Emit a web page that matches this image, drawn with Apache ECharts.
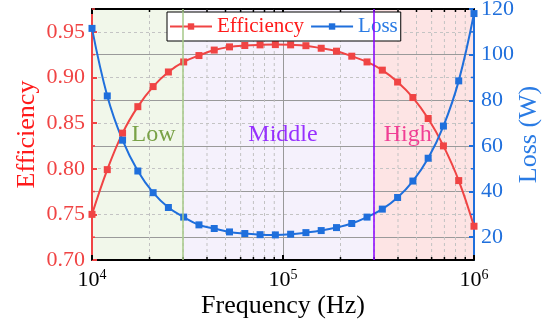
<!DOCTYPE html>
<html>
<head>
<meta charset="utf-8">
<script src="https://cdn.jsdelivr.net/npm/echarts@6/dist/echarts.min.js"></script>
<style>html,body{margin:0;padding:0;background:#fff}#c{width:560px;height:328px}</style>
</head>
<body>
<div id="c"></div>
<script>
// ---- data ----
const freq = [10000, 12023, 14454, 17378, 20893, 25119, 30200, 36308, 43652, 52481, 63096, 75858, 91201,
              109648, 131826, 158489, 190546, 229087, 275423, 331131, 398107, 478630, 575440, 691831, 831764, 1000000];
const efficiency = [0.750, 0.799, 0.839, 0.868, 0.890, 0.906, 0.917, 0.924, 0.930, 0.9335, 0.935, 0.9357, 0.936,
                    0.9357, 0.9348, 0.932, 0.9288, 0.9233, 0.917, 0.908, 0.895, 0.878, 0.855, 0.825, 0.787, 0.737];
const loss = [111.5, 81.9, 62.5, 49.0, 39.5, 33.0, 28.8, 25.4, 23.8, 22.3, 21.6, 21.1, 21.0,
              21.3, 22.0, 22.9, 24.2, 26.0, 28.8, 32.3, 37.4, 44.6, 54.6, 68.7, 88.5, 118];
const regionNames = ['Low', 'Middle', 'High'];
const regionStart = [1e4, 3e4, 3e5];
const regionEnd = [3e4, 3e5, 1e6];
const regionLabelX = [2.1e4, 1e5, 4.5e5];
const regionLabelY = 0.8375;
const boundaries = [3e4, 3e5];
const minorFreq = [2e4, 3e4, 4e4, 5e4, 6e4, 7e4, 8e4, 9e4, 2e5, 3e5, 4e5, 5e5, 6e5, 7e5, 8e5, 9e5];
const effMinorTicks = [0.725, 0.775, 0.825, 0.875, 0.925, 0.975];
const lossMinorTicks = [30, 50, 70, 90, 110];
const effRange = [0.70, 0.975];
const lossRange = [10, 120];
const freqRange = [1e4, 1e6];

// ---- styles ----
const FONT = 'Liberation Serif';
const RED = '#f04444';
const BLUE = '#1f6fdc';
const regionFill = ['#f1f7ea', '#f5f1fc', '#fde4e4'];
const regionText = ['#5b8c1e', '#8000ff', '#ee1480'];
const boundaryColor = ['#a6c888', '#8800ff'];

const chart = echarts.init(document.getElementById('c'), null, {renderer: 'canvas'});

function bgRender(params, api) {
  const cs = params.coordSys;
  const x1 = api.coord([api.value(0), effRange[0]])[0];
  const x2 = api.coord([api.value(1), effRange[0]])[0];
  return {type: 'rect', shape: {x: x1, y: cs.y, width: x2 - x1, height: cs.height},
          style: {fill: regionFill[params.dataIndex]}};
}
function minorXRender(params, api) {
  const cs = params.coordSys;
  const x = api.coord([api.value(0), effRange[0]])[0];
  const b = cs.y + cs.height;
  return {type: 'group', children: [
    {type: 'line', shape: {x1: x, y1: cs.y, x2: x, y2: b}, style: {stroke: '#c2c2c2', lineWidth: 1, lineDash: [3, 3]}},
    {type: 'line', shape: {x1: x, y1: b, x2: x, y2: b - 3}, style: {stroke: '#000', lineWidth: 1.5}},
    {type: 'line', shape: {x1: x, y1: cs.y, x2: x, y2: cs.y + 3}, style: {stroke: '#000', lineWidth: 1.5}}
  ]};
}
function minorLeftRender(params, api) {
  const cs = params.coordSys;
  const y = api.coord([freqRange[0], api.value(0)])[1];
  return {type: 'line', shape: {x1: cs.x, y1: y, x2: cs.x + 3, y2: y}, style: {stroke: RED, lineWidth: 1.5}};
}
function minorRightRender(params, api) {
  const cs = params.coordSys;
  const y = api.coord([freqRange[0], api.value(0)])[1];
  const r = cs.x + cs.width;
  return {type: 'line', shape: {x1: r, y1: y, x2: r - 3, y2: y}, style: {stroke: BLUE, lineWidth: 1.5}};
}

const option = {
  backgroundColor: '#fff',
  animation: false,
  textStyle: {fontFamily: FONT},
  grid: {left: 92, right: 86, top: 9, bottom: 68, containLabel: false, outerBoundsMode: 'none'},
  legend: {
    left: 167, top: 12,
    padding: [4, 3, 4, 2],
    itemWidth: 42, itemHeight: 8, itemGap: 6,
    backgroundColor: '#fff', borderColor: '#000', borderWidth: 1, borderRadius: 0,
    textStyle: {fontFamily: FONT, fontSize: 21},
    data: [
      {name: 'Efficiency', textStyle: {color: '#ff1a1a'}},
      {name: 'Loss', textStyle: {color: '#2a7be4'}}
    ]
  },
  xAxis: [
    {
      type: 'log', logBase: 10, min: freqRange[0], max: freqRange[1], position: 'bottom',
      name: 'Frequency (Hz)', nameLocation: 'middle', nameGap: 33, nameMoveOverlap: false,
      nameTextStyle: {fontFamily: FONT, fontSize: 26, color: '#000'},
      axisLine: {show: true, lineStyle: {color: '#000', width: 2}},
      axisTick: {show: true, inside: true, length: 5, lineStyle: {color: '#000', width: 2}},
      axisLabel: {
        margin: 8,
        formatter: v => '{b|10}{s|' + Math.round(Math.log10(v)) + '}',
        rich: {
          b: {fontFamily: FONT, fontSize: 22, color: '#000', lineHeight: 24},
          s: {fontFamily: FONT, fontSize: 14, color: '#000', verticalAlign: 'top', lineHeight: 24, padding: [0, 0, 8, 0]}
        }
      },
      splitLine: {show: true, lineStyle: {color: '#999', width: 1}},
      minorTick: {show: false}
    },
    {
      type: 'log', logBase: 10, min: freqRange[0], max: freqRange[1], position: 'top',
      axisLine: {show: true, lineStyle: {color: '#000', width: 2}},
      axisTick: {show: true, inside: true, length: 5, lineStyle: {color: '#000', width: 2}},
      axisLabel: {show: false},
      splitLine: {show: false}
    }
  ],
  yAxis: [
    {
      type: 'value', min: effRange[0], max: effRange[1], interval: 0.05, position: 'left',
      name: 'Efficiency', nameLocation: 'middle', nameGap: 52, nameRotate: 90, nameMoveOverlap: false,
      nameTextStyle: {fontFamily: FONT, fontSize: 26, color: '#ff1a1a'},
      axisLine: {show: true, lineStyle: {color: RED, width: 2}},
      axisTick: {show: true, inside: true, length: 5, lineStyle: {color: RED, width: 2}},
      axisLabel: {showMaxLabel: false, margin: 7, fontFamily: FONT, fontSize: 22, color: RED,
                  formatter: v => v.toFixed(2)},
      splitLine: {show: true, lineStyle: {color: '#c4c4c4', width: 1, type: [3, 3]}}
    },
    {
      type: 'value', min: lossRange[0], max: lossRange[1], position: 'right',
      name: 'Loss (W)', nameLocation: 'middle', nameGap: 42, nameRotate: 90, nameMoveOverlap: false,
      nameTextStyle: {fontFamily: FONT, fontSize: 26, color: '#2a7be4'},
      axisLine: {show: true, lineStyle: {color: BLUE, width: 2}},
      axisTick: {show: true, inside: true, length: 5, lineStyle: {color: BLUE, width: 2}},
      axisLabel: {showMinLabel: false, margin: 7, fontFamily: FONT, fontSize: 22, color: BLUE},
      splitLine: {show: true, lineStyle: {color: '#9a9a9a', width: 1}}
    }
  ],
  series: [
    {
      type: 'custom', name: 'bg', z: -1, silent: true, xAxisIndex: 0, yAxisIndex: 0,
      renderItem: bgRender, data: regionStart.map((s, i) => [s, regionEnd[i]]),
      encode: {x: [0, 1]}
    },
    {
      type: 'custom', name: 'minorX', z: 1, silent: true, xAxisIndex: 0, yAxisIndex: 0,
      renderItem: minorXRender, data: minorFreq.map(f => [f]), encode: {x: 0}
    },
    {
      type: 'custom', name: 'minorL', z: 4, silent: true, xAxisIndex: 0, yAxisIndex: 0,
      renderItem: minorLeftRender, data: effMinorTicks.map(v => [v]), encode: {y: 0}
    },
    {
      type: 'custom', name: 'minorR', z: 4, silent: true, xAxisIndex: 0, yAxisIndex: 1,
      renderItem: minorRightRender, data: lossMinorTicks.map(v => [v]), encode: {y: 0}
    },
    {
      type: 'scatter', name: 'regions', z: 2, silent: true, xAxisIndex: 0, yAxisIndex: 0,
      symbolSize: 0,
      data: regionNames.map((n, i) => ({
        value: [regionLabelX[i], regionLabelY], name: n,
        label: {show: true, position: 'inside', formatter: n, color: regionText[i],
                fontFamily: FONT, fontSize: 24}
      })),
      markLine: {
        silent: true, symbol: ['none', 'none'], label: {show: false},
        data: boundaries.map((b, i) => ({xAxis: b, lineStyle: {color: boundaryColor[i], width: 1.5, type: 'solid'}}))
      }
    },
    {
      type: 'line', name: 'Efficiency', z: 3, xAxisIndex: 0, yAxisIndex: 0,
      data: freq.map((f, i) => [f, efficiency[i]]),
      smooth: 0.4, symbol: 'rect', symbolSize: 7, showAllSymbol: true,
      itemStyle: {color: RED}, lineStyle: {color: RED, width: 2}
    },
    {
      type: 'line', name: 'Loss', z: 3, xAxisIndex: 0, yAxisIndex: 1,
      data: freq.map((f, i) => [f, loss[i]]),
      smooth: 0.4, symbol: 'rect', symbolSize: 7, showAllSymbol: true,
      itemStyle: {color: BLUE}, lineStyle: {color: BLUE, width: 2}
    }
  ]
};
chart.setOption(option);
</script>
</body>
</html>
